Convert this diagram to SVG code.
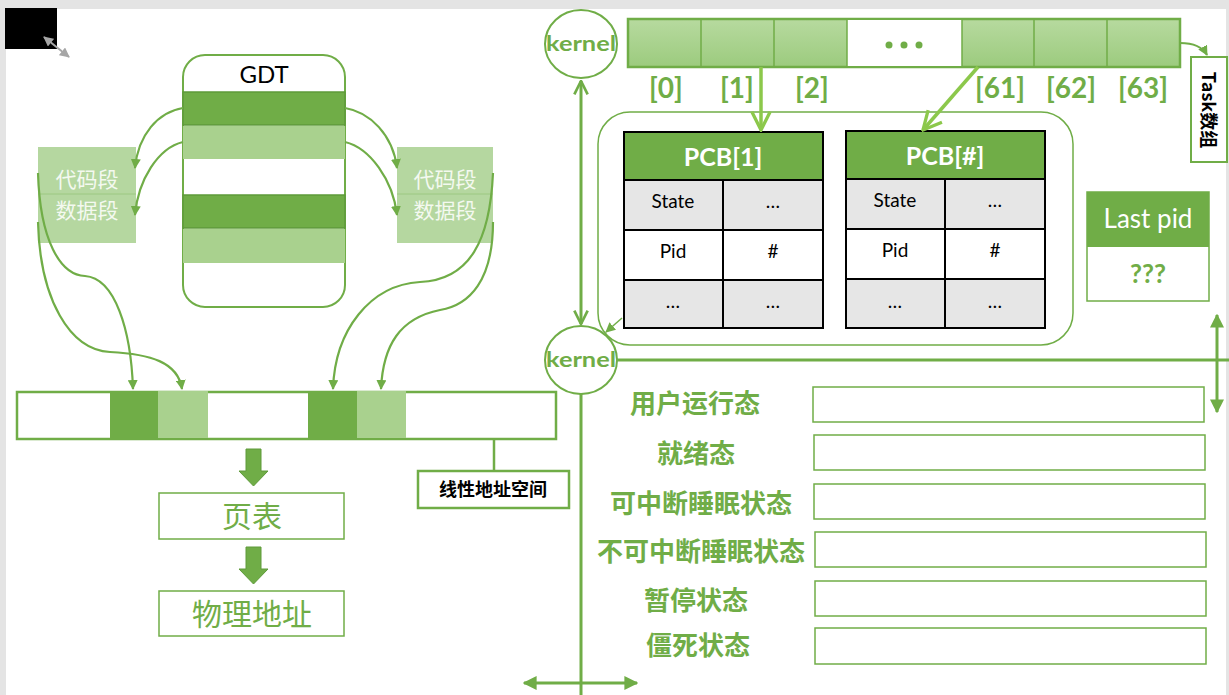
<svg xmlns="http://www.w3.org/2000/svg" width="1229" height="695" viewBox="0 0 1229 695">
<defs>
<style>
.g{stroke:#70AD47;fill:none}
.dk{fill:#70AD47;stroke:#5E9A3A;stroke-width:1.5}
.lt{fill:#A9D18E;stroke:none}
.cjk{font-family:"Noto Sans CJK SC","Noto Sans",sans-serif}
.lat{font-family:Lato,"Liberation Sans",sans-serif}
.st{font-family:"Noto Sans CJK SC",sans-serif;font-size:26px;font-weight:bold;fill:#70AD47;text-anchor:middle}
.sbox{fill:#fff;stroke:#70AD47;stroke-width:1.5}
.cell{font-family:Lato,"Liberation Sans",sans-serif;font-size:19px;fill:#000;text-anchor:middle}
.idx{font-family:Lato,"Liberation Sans",sans-serif;font-size:28px;font-weight:bold;fill:#70AD47;text-anchor:middle}
.pcbline{stroke:#000;stroke-width:2;fill:none}
</style>
<marker id="ah" viewBox="0 0 10 10" refX="9" refY="5" markerWidth="10" markerHeight="10" markerUnits="userSpaceOnUse" orient="auto">
<path d="M0,0 L10,5 L0,10 z" fill="#70AD47"/>
</marker>
<marker id="ahb" viewBox="0 0 10 10" refX="9" refY="5" markerWidth="14" markerHeight="14" markerUnits="userSpaceOnUse" orient="auto-start-reverse">
<path d="M0,0 L10,5 L0,10 z" fill="#70AD47"/>
</marker>
<marker id="av" viewBox="0 0 12 12" refX="11" refY="6" markerWidth="16" markerHeight="16" markerUnits="userSpaceOnUse" orient="auto-start-reverse">
<path d="M1,1 L11,6 L1,11" fill="none" stroke="#70AD47" stroke-width="2"/>
</marker>
<marker id="avl" viewBox="0 0 12 12" refX="11" refY="6" markerWidth="22" markerHeight="22" markerUnits="userSpaceOnUse" orient="auto">
<path d="M1,1 L11,6 L1,11" fill="none" stroke="#8CC84B" stroke-width="1.8"/>
</marker>
<marker id="agr" viewBox="0 0 10 10" refX="9" refY="5" markerWidth="10" markerHeight="10" markerUnits="userSpaceOnUse" orient="auto-start-reverse">
<path d="M0,0 L10,5 L0,10 z" fill="#A6A6A6"/>
</marker>
<linearGradient id="cg" x1="0" y1="0" x2="0" y2="1">
<stop offset="0" stop-color="#B7DA9F"/>
<stop offset="1" stop-color="#9CCB7E"/>
</linearGradient>
</defs>

<!-- frame -->
<rect x="0" y="0" width="1229" height="695" fill="#E4E4E4"/>
<rect x="6" y="9" width="1220" height="686" fill="#FFFFFF"/>
<rect x="5" y="8" width="52" height="41" fill="#000"/>
<line x1="44" y1="37" x2="69" y2="57" stroke="#A6A6A6" stroke-width="2" marker-start="url(#agr)" marker-end="url(#agr)"/>

<!-- GDT -->
<g id="gdt">
<rect x="183" y="55" width="162" height="252" rx="22" fill="#fff" stroke="#70AD47" stroke-width="2"/>
<rect x="183" y="92" width="162" height="33" class="dk"/>
<rect x="183" y="126" width="162" height="33" class="lt"/>
<rect x="183" y="195" width="162" height="33" class="dk"/>
<rect x="183" y="229" width="162" height="34" class="lt"/>
<text x="264" y="83" class="lat" font-size="24" text-anchor="middle" fill="#000">GDT</text>
</g>

<g id="seg-left">
<rect x="38" y="147" width="98" height="96" fill="#B5D7A0"/>
<line x1="38" y1="194" x2="136" y2="194" stroke="#9CC881" stroke-width="1"/>
<text x="87" y="187" class="cjk" font-size="21" text-anchor="middle" fill="#F4F9F0">代码段</text>
<text x="87" y="218" class="cjk" font-size="21" text-anchor="middle" fill="#F4F9F0">数据段</text>
</g>
<g id="seg-right">
<rect x="397" y="147" width="96" height="96" fill="#B5D7A0"/>
<line x1="397" y1="194" x2="493" y2="194" stroke="#9CC881" stroke-width="1"/>
<text x="445" y="187" class="cjk" font-size="21" text-anchor="middle" fill="#F4F9F0">代码段</text>
<text x="445" y="218" class="cjk" font-size="21" text-anchor="middle" fill="#F4F9F0">数据段</text>
</g>

<!-- linear address space -->
<g id="linear">
<rect x="17" y="392" width="539" height="47" fill="#fff" stroke="#70AD47" stroke-width="2.5"/>
<rect x="110" y="393" width="48" height="45" fill="#70AD47"/>
<rect x="158" y="391" width="50" height="47" fill="#A9D18E"/>
<rect x="308" y="393" width="49" height="45" fill="#70AD47"/>
<rect x="357" y="391" width="49" height="47" fill="#A9D18E"/>
</g>
<g id="linear-label">
<rect x="418" y="471" width="151" height="37" fill="#fff" stroke="#70AD47" stroke-width="2.5"/>
<text x="493" y="496" class="cjk" font-size="18" font-weight="bold" text-anchor="middle" fill="#000">线性地址空间</text>
</g>
<g id="pagetable">
<rect x="159" y="493" width="185" height="46" fill="#fff" stroke="#70AD47" stroke-width="1.5"/>
<text x="252" y="527" class="cjk" font-size="30" text-anchor="middle" fill="#70AD47">页表</text>
</g>
<g id="physaddr">
<rect x="159" y="591" width="185" height="45" fill="#fff" stroke="#70AD47" stroke-width="1.5"/>
<text x="252" y="625" class="cjk" font-size="30" text-anchor="middle" fill="#70AD47">物理地址</text>
</g>

<!-- right side: kernels -->
<g id="kernel-top">
<ellipse cx="581" cy="44" rx="36" ry="34" fill="#fff" stroke="#70AD47" stroke-width="2"/>
<text x="581" y="51" class="lat" font-size="21" font-weight="bold" text-anchor="middle" fill="#70AD47" textLength="70" lengthAdjust="spacingAndGlyphs">kernel</text>
</g>
<g id="kernel-bottom">
<ellipse cx="581" cy="360" rx="36" ry="34" fill="#fff" stroke="#70AD47" stroke-width="2"/>
<text x="581" y="367" class="lat" font-size="21" font-weight="bold" text-anchor="middle" fill="#70AD47" textLength="70" lengthAdjust="spacingAndGlyphs">kernel</text>
</g>

<!-- task array -->
<g id="task-array">
<rect x="628" y="19" width="552" height="48" fill="url(#cg)" stroke="#70AD47" stroke-width="2.5"/>
<rect x="847" y="20" width="115" height="46" fill="#fff"/>
<g stroke="#70AD47" stroke-width="1.5">
<line x1="701" y1="19" x2="701" y2="67"/>
<line x1="774" y1="19" x2="774" y2="67"/>
<line x1="847" y1="19" x2="847" y2="67"/>
<line x1="962" y1="19" x2="962" y2="67"/>
<line x1="1034" y1="19" x2="1034" y2="67"/>
<line x1="1107" y1="19" x2="1107" y2="67"/>
</g>
<g fill="#70AD47"><circle cx="889" cy="45" r="3.5"/><circle cx="904" cy="45" r="3.5"/><circle cx="919" cy="45" r="3.5"/></g>
<text x="666" y="98" class="idx">[0]</text>
<text x="737" y="98" class="idx">[1]</text>
<text x="812" y="98" class="idx">[2]</text>
<text x="1000" y="98" class="idx">[61]</text>
<text x="1071" y="98" class="idx">[62]</text>
<text x="1143" y="98" class="idx">[63]</text>
</g>
<g id="task-label">
<rect x="1191" y="57" width="36" height="105" fill="#fff" stroke="#70AD47" stroke-width="2"/>
<text transform="translate(1202,110) rotate(90)" class="cjk" font-size="18" font-weight="bold" text-anchor="middle" fill="#000">Task数组</text>
</g>

<!-- PCB container -->
<g id="pcb-container">
<rect x="598" y="112" width="475" height="233" rx="32" fill="#fff" stroke="#70AD47" stroke-width="1.5"/>
</g>
<g id="pcb1">
<rect x="624" y="132" width="199" height="48" fill="#70AD47"/>
<rect x="624" y="180" width="199" height="50" fill="#E6E6E6"/>
<rect x="624" y="230" width="199" height="50" fill="#fff"/>
<rect x="624" y="280" width="199" height="48" fill="#E6E6E6"/>
<rect x="624" y="132" width="199" height="196" class="pcbline"/>
<path d="M624,180 H823 M624,230 H823 M624,280 H823 M723,180 V328" class="pcbline"/>
<text x="723" y="166" class="lat" font-size="25" font-weight="bold" fill="#fff" text-anchor="middle">PCB[1]</text>
<text x="673" y="208" class="cell">State</text>
<text x="773" y="208" class="cell">…</text>
<text x="673" y="258" class="cell">Pid</text>
<text x="773" y="258" class="cell">#</text>
<text x="673" y="308" class="cell">…</text>
<text x="773" y="308" class="cell">…</text>
</g>
<g id="pcbn">
<rect x="846" y="131" width="199" height="48" fill="#70AD47"/>
<rect x="846" y="179" width="199" height="50" fill="#E6E6E6"/>
<rect x="846" y="229" width="199" height="50" fill="#fff"/>
<rect x="846" y="279" width="199" height="49" fill="#E6E6E6"/>
<rect x="846" y="131" width="199" height="197" class="pcbline"/>
<path d="M846,179 H1045 M846,229 H1045 M846,279 H1045 M945,179 V328" class="pcbline"/>
<text x="945" y="165" class="lat" font-size="25" font-weight="bold" fill="#fff" text-anchor="middle">PCB[#]</text>
<text x="895" y="207" class="cell">State</text>
<text x="995" y="207" class="cell">…</text>
<text x="895" y="257" class="cell">Pid</text>
<text x="995" y="257" class="cell">#</text>
<text x="895" y="308" class="cell">…</text>
<text x="995" y="308" class="cell">…</text>
</g>

<g id="lastpid">
<rect x="1087" y="192" width="122" height="109" fill="#fff" stroke="#70AD47" stroke-width="1.5"/>
<rect x="1087" y="192" width="122" height="55" fill="#70AD47"/>
<text x="1148" y="228" class="lat" font-size="26" fill="#fff" text-anchor="middle">Last pid</text>
<text x="1148" y="283" class="lat" font-size="26" font-weight="bold" fill="#70AD47" text-anchor="middle">???</text>
</g>

<!-- states -->
<g id="state-1"><text x="695" y="413" class="st">用户运行态</text><rect x="813" y="387" width="391" height="35" class="sbox"/></g>
<g id="state-2"><text x="696" y="463" class="st">就绪态</text><rect x="814" y="435" width="391" height="35" class="sbox"/></g>
<g id="state-3"><text x="701" y="513" class="st">可中断睡眠状态</text><rect x="814" y="484" width="391" height="35" class="sbox"/></g>
<g id="state-4"><text x="701" y="561" class="st">不可中断睡眠状态</text><rect x="815" y="532" width="391" height="35" class="sbox"/></g>
<g id="state-5"><text x="696" y="610" class="st">暂停状态</text><rect x="815" y="581" width="391" height="35" class="sbox"/></g>
<g id="state-6"><text x="698" y="655" class="st">僵死状态</text><rect x="815" y="628" width="391" height="36" class="sbox"/></g>

<!-- connectors -->
<g id="connectors" fill="none">
<g stroke="#70AD47" stroke-width="2.2">
<path d="M183,108 C158,112 138,135 135,168" marker-end="url(#ah)"/>
<path d="M183,142 C158,148 138,180 135,215" marker-end="url(#ah)"/>
<path d="M345,108 C370,112 393,135 397,168" marker-end="url(#ah)"/>
<path d="M345,142 C370,148 393,180 397,215" marker-end="url(#ah)"/>
<path d="M38,173 C40,240 60,275 85,276 C115,278 131,330 133,389" marker-end="url(#ah)"/>
<path d="M38,222 C40,300 70,350 110,352 C150,354 178,362 182,389" marker-end="url(#ah)"/>
<path d="M493,173 C490,240 470,280 420,282 C370,285 335,330 333,389" marker-end="url(#ah)"/>
<path d="M493,222 C493,280 470,305 440,310 C400,318 383,345 381,389" marker-end="url(#ah)"/>
<path d="M1180,43 C1192,43 1202,46 1207,55" marker-end="url(#ah)"/>
<path d="M622,318 L606,332" stroke-width="1.5" marker-end="url(#ah)"/>
</g>
<line x1="494" y1="439" x2="494" y2="471" stroke="#70AD47" stroke-width="2.5"/>
<polygon points="246,449 261,449 261,471 268,471 253.5,486 239,471 246,471" fill="#70AD47" stroke="#5E9A3A" stroke-width="1"/>
<polygon points="246,547 261,547 261,569 268,569 253.5,584 239,569 246,569" fill="#70AD47" stroke="#5E9A3A" stroke-width="1"/>
<line x1="581" y1="81" x2="581" y2="324" stroke="#70AD47" stroke-width="3" marker-start="url(#av)" marker-end="url(#av)"/>
<line x1="581" y1="394" x2="581" y2="695" stroke="#70AD47" stroke-width="3"/>
<line x1="617" y1="360" x2="1229" y2="360" stroke="#70AD47" stroke-width="3"/>
<line x1="524" y1="683" x2="637" y2="683" stroke="#70AD47" stroke-width="3" marker-start="url(#ahb)" marker-end="url(#ahb)"/>
<line x1="1217" y1="315" x2="1217" y2="412" stroke="#70AD47" stroke-width="3" marker-start="url(#ahb)" marker-end="url(#ahb)"/>
<line x1="761" y1="67" x2="761" y2="130" stroke="#8CC84B" stroke-width="3.5" marker-end="url(#avl)"/>
<line x1="978" y1="67" x2="923" y2="130" stroke="#8CC84B" stroke-width="3.5" marker-end="url(#avl)"/>
</g>
</svg>
